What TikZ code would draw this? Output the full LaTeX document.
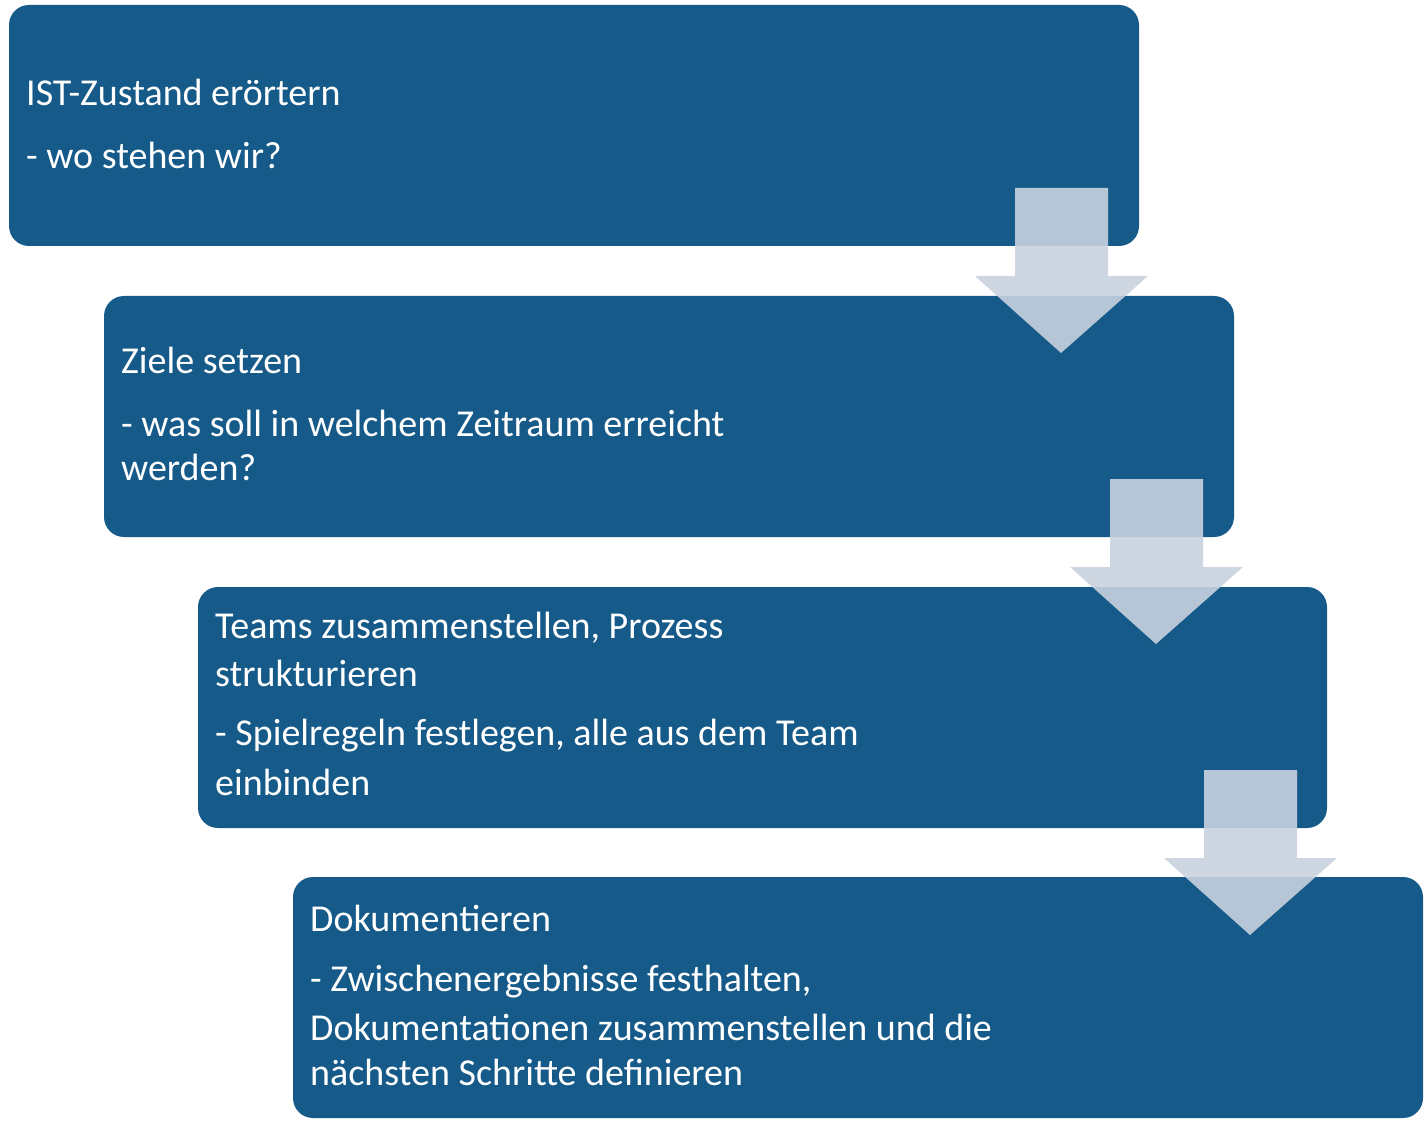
\documentclass[tikz,border=0pt]{standalone}
\usepackage{fontspec}
\setmainfont{Carlito}
\begin{document}
\begin{tikzpicture}[x=1pt,y=-1pt,
  box/.style={fill=boxblue,rounded corners=20pt},
  txt/.style={anchor=west,text=white,font=\fontsize{38}{44}\selectfont,inner sep=0pt},
  arr/.style={fill=arrcol,fill opacity=0.9}]
\definecolor{boxblue}{HTML}{165A89}
\definecolor{arrcol}{HTML}{C9D2DF}
\useasboundingbox (0,0) rectangle (1428,1123);
\fill[box] (9,5) rectangle (1139,246);
\fill[box] (104,296) rectangle (1234,537);
\fill[box] (198,587) rectangle (1327,828);
\fill[box] (293,877) rectangle (1423,1118);
\foreach \dx/\dy in {0/0,95/291,189/582}{
  \fill[arr] (1015+\dx,188+\dy) -- (1108+\dx,188+\dy) -- (1108+\dx,276+\dy) -- (1148+\dx,276+\dy)
    -- (1061+\dx,353+\dy) -- (975+\dx,276+\dy) -- (1015+\dx,276+\dy) -- cycle;}
\node[txt] (a1) at (26,92) {IST-Zustand erörtern};
\node[txt] (a2) at (26,155) {- wo stehen wir?};
\node[txt] (b1) at (121,360) {Ziele setzen};
\node[txt] (b2) at (121,423) {- was soll in welchem Zeitraum erreicht};
\node[txt] (b3) at (121,467) {werden?};
\node[txt] (c1) at (215,628) {Teams zusammenstellen, Prozess};
\node[txt] (c2) at (215,673) {strukturieren};
\node[txt] (c3) at (215,736) {- Spielregeln festlegen, alle aus dem Team};
\node[txt] (c4) at (215,782) {einbinden};
\node[txt] (d1) at (310,918) {Dokumentieren};
\node[txt] (d2) at (310,982) {- Zwischenergebnisse festhalten,};
\node[txt] (d3) at (310,1027) {Dokumentationen zusammenstellen und die};
\node[txt] (d4) at (310,1072) {nächsten Schritte definieren};
\end{tikzpicture}
\end{document}
